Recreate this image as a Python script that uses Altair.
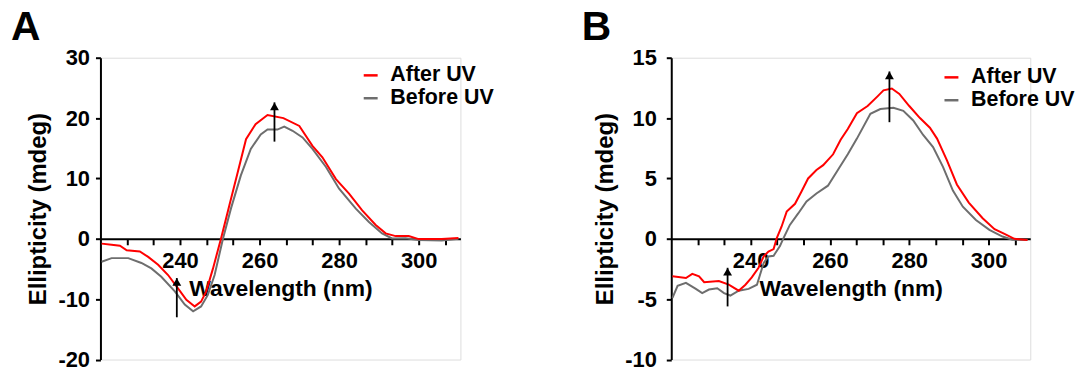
import altair as alt
import pandas as pd

FONT = "Liberation Sans"
SERIES = ["After UV", "Before UV"]
COLORS = ["#ff0000", "#6e6e6e"]
X_TITLE = "Wavelength (nm)"
Y_TITLE = "Ellipticity (mdeg)"

# ---------------- Panel A data ----------------
a_after_x = [220.3, 222.8, 224.9, 226.6, 229.9, 232.0, 234.5, 237.0, 239.5, 241.6, 243.7, 245.3,
             246.6, 248.3, 250.3, 252.4, 254.5, 256.6, 259.0, 262.0, 266.0, 270.0, 273.3, 275.8,
             279.2, 282.5, 285.8, 289.2, 291.7, 294.2, 297.5, 300.0, 305.8, 310.0]
a_after_y = [-0.8, -1.0, -1.15, -1.9, -2.1, -3.0, -4.3, -6.0, -8.2, -10.1, -11.2, -10.4,
             -8.7, -4.9, 0.0, 5.5, 11.0, 16.5, 19.0, 20.5, 20.0, 18.7, 15.4, 13.5,
             9.9, 7.5, 4.7, 2.3, 0.9, 0.45, 0.45, -0.05, -0.05, 0.15]
a_before_x = [220.3, 222.8, 227.0, 230.3, 232.8, 235.3, 238.7, 241.2, 243.3, 245.3, 247.0, 248.7,
              250.8, 252.8, 255.3, 257.8, 260.3, 262.0, 264.5, 266.2, 268.3, 270.8, 273.3, 276.7,
              280.0, 284.2, 287.5, 290.8, 293.3, 296.7, 300.0, 305.8, 310.0]
a_before_y = [-3.8, -3.2, -3.2, -4.0, -4.9, -6.3, -8.7, -10.9, -12.0, -11.2, -9.3, -6.0,
              0.0, 5.0, 10.5, 14.9, 17.3, 18.1, 18.1, 18.6, 17.9, 16.8, 14.9, 11.9,
              8.3, 5.0, 2.8, 0.9, 0.05, 0.1, -0.2, -0.3, 0.0]
a_arrow_x = [263.75, 239.2]
a_arrow_tail = [16.1, -13.0]
a_arrow_tip = [22.6, -6.5]

# ---------------- Panel B data ----------------
b_after_x = [220.3, 223.7, 225.3, 227.0, 228.3, 232.0, 234.5, 237.0, 238.7, 240.3, 242.0, 243.3,
             244.5, 245.8, 246.6, 247.8, 249.1, 251.2, 252.8, 254.5, 256.6, 258.3, 260.8, 262.7,
             264.5, 266.8, 269.5, 272.0, 273.5, 275.6, 277.5, 280.0, 282.7, 285.2, 287.0, 289.5,
             292.0, 295.0, 298.5, 301.5, 304.0, 306.5, 309.8]
b_after_y = [-3.1, -3.25, -2.9, -3.1, -3.6, -3.5, -3.8, -4.3, -3.8, -3.2, -2.4, -1.45,
             -1.05, -0.85, 0.05, 1.0, 2.25, 2.9, 3.9, 5.0, 5.7, 6.1, 7.0, 8.2,
             9.1, 10.4, 11.0, 11.8, 12.3, 12.45, 12.0, 11.0, 10.0, 9.2, 8.3, 6.5,
             4.5, 3.0, 1.7, 0.8, 0.4, 0.0, -0.1]
b_before_x = [220.3, 221.6, 223.7, 226.2, 227.8, 229.5, 231.6, 233.3, 234.9, 237.0, 239.5, 241.6,
              243.3, 244.5, 245.8, 247.4, 248.3, 249.9, 252.0, 254.1, 256.6, 259.5, 262.0, 264.5,
              266.8, 270.2, 272.7, 276.0, 278.5, 281.0, 283.5, 286.0, 288.5, 291.0, 293.5, 296.8,
              300.2, 303.5, 306.0, 309.8]
b_before_y = [-4.9, -3.9, -3.65, -4.15, -4.5, -4.2, -4.1, -4.5, -4.7, -4.3, -4.15, -3.8,
              -2.0, -1.46, -1.4, -0.6, 0.05, 1.15, 2.1, 3.1, 3.75, 4.4, 5.7, 7.0,
              8.3, 10.35, 10.75, 10.85, 10.6, 9.8, 8.6, 7.6, 5.96, 4.0, 2.66, 1.56,
              0.74, 0.19, -0.08, -0.1]
b_arrow_x = [275.0, 234.2]
b_arrow_tail = [9.66, -5.6]
b_arrow_tip = [13.86, -2.4]

x_ticks = [226.667, 233.333, 240, 246.667, 253.333, 260, 266.667, 273.333, 280,
           286.667, 293.333, 300, 306.667]
a_y_ticks = [-20, -10, 0, 10, 20, 30]
b_y_ticks = [-10, -5, 0, 5, 10, 15]


def panel(label, ax, ay, bx, by, arx, art, arp, ydom, yticks, legx, legy, width, ylabpad):
    df = pd.concat([
        pd.DataFrame({"nm": bx, "v": by, "series": "Before UV"}),
        pd.DataFrame({"nm": ax, "v": ay, "series": "After UV"}),
    ], ignore_index=True)
    arrows = pd.DataFrame({"nm": arx, "v": art, "v2": arp})

    xscale = alt.Scale(domain=[220, 310.5], nice=False, zero=False)
    yscale = alt.Scale(domain=ydom, nice=False, zero=False)
    height = 303.5
    zero_off = -(height * (0 - ydom[0]) / (ydom[1] - ydom[0]))

    xaxis = alt.Axis(values=x_ticks, offset=zero_off, grid=False,
                     labelExpr="datum.value % 20 === 0 ? toString(datum.value) : ''",
                     domainColor="black", domainWidth=2, tickColor="black", tickWidth=2,
                     tickSize=6, labelFont=FONT, labelFontSize=22, labelFontWeight="bold",
                     labelColor="black", labelPadding=6, labelFlush=False,
                     labelOverlap=False, titleFont=FONT, titleFontSize=23,
                     titleFontWeight="bold", titleColor="black", titlePadding=6)
    yaxis = alt.Axis(values=yticks, grid=False, labelExpr="toString(datum.value)",
                     domainColor="black", domainWidth=2, tickColor="black", tickWidth=2,
                     tickSize=5, labelFont=FONT, labelFontSize=22, labelFontWeight="bold",
                     labelColor="black", labelPadding=ylabpad, labelFlush=False,
                     labelOverlap=False, titleFont=FONT, titleFontSize=24,
                     titleFontWeight="bold", titleColor="black", titlePadding=7)

    lines = alt.Chart(df).mark_line(strokeWidth=2).encode(
        x=alt.X("nm:Q", scale=xscale, title=X_TITLE, axis=xaxis),
        y=alt.Y("v:Q", scale=yscale, title=Y_TITLE, axis=yaxis),
        color=alt.Color("series:N", scale=alt.Scale(domain=SERIES, range=COLORS),
                        legend=alt.Legend(orient="none", legendX=legx, legendY=legy, title=None,
                                          symbolType="stroke", symbolSize=196,
                                          symbolStrokeWidth=2.5, labelFont=FONT,
                                          labelFontSize=21.5, labelFontWeight="bold",
                                          labelColor="black", labelOffset=9, rowPadding=0,
                                          padding=0)),
    )
    shafts = alt.Chart(arrows).mark_rule(color="black", strokeWidth=1.8).encode(
        x=alt.X("nm:Q", scale=xscale, title=X_TITLE, axis=xaxis),
        y=alt.Y("v:Q", scale=yscale, title=Y_TITLE, axis=yaxis),
        y2="v2:Q",
    )
    heads = alt.Chart(arrows).mark_point(shape="triangle-up", size=80, filled=True,
                                         color="black", opacity=1, yOffset=4).encode(
        x=alt.X("nm:Q", scale=xscale, title=X_TITLE, axis=xaxis),
        y=alt.Y("v2:Q", scale=yscale, title=Y_TITLE, axis=yaxis),
    )
    return alt.layer(lines, shafts, heads).properties(
        width=width, height=height,
        title=alt.TitleParams(label, anchor="start", frame="group", dx=-90, fontSize=41,
                              fontWeight="bold", font=FONT, color="black", offset=-2),
    )


pa = panel("A", a_after_x, a_after_y, a_before_x, a_before_y, a_arrow_x, a_arrow_tail,
           a_arrow_tip, [-20, 30], a_y_ticks, 261, 7, 362, 6)
pb = panel("B", b_after_x, b_after_y, b_before_x, b_before_y, b_arrow_x, b_arrow_tail,
           b_arrow_tip, [-10, 15], b_y_ticks, 271, 9, 361, 10)

chart = alt.hconcat(pa, pb, spacing=212, bounds="flush").resolve_legend(
    color="independent"
).resolve_scale(color="independent").properties(
    padding={"left": 10, "top": 5, "right": 0, "bottom": 0},
).configure_view(strokeWidth=0, stroke="transparent").configure_axis(
    labelOverlap=False
).configure(background="white")

chart.save("out.html", embed_options={"renderer": "svg", "actions": False})
